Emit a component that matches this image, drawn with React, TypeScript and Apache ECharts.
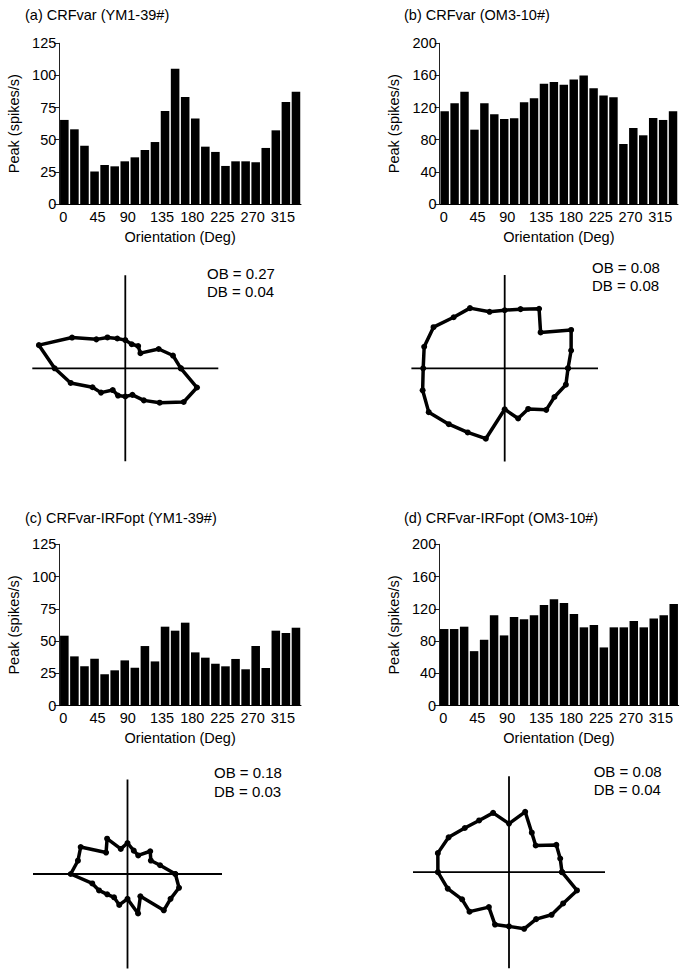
import React, { useEffect, useRef } from "react";
import * as echarts from "echarts";

const orientations = ["0","15","30","45","60","75","90","105","120","135","150","165","180","195","210","225","240","255","270","285","300","315","330","345"];
const angleDeg = [0,15,30,45,60,75,90,105,120,135,150,165,180,195,210,225,240,255,270,285,300,315,330,345];

const crfYM = [65.4,58.1,45.4,25.2,30.3,29.3,33.2,36.3,42.0,48.2,72.4,105.3,83.2,66.6,44.6,40.5,29.6,33.2,33.2,32.4,43.6,57.3,79.4,87.4];
const crfOM = [115.4,125.3,139.8,92.5,125.3,111.6,105.8,106.6,126.6,131.5,149.8,151.9,148.5,154.8,159.8,144.0,134.9,132.8,74.7,94.6,85.5,107.1,104.6,115.4];
const irfYM = [54.2,38.2,30.5,36.4,24.3,27.4,35.1,29.4,46.2,34.3,61.2,58.1,64.3,41.3,37.2,32.5,30.5,36.2,28.2,46.2,29.2,58.1,56.3,60.4];
const irfOM = [95.0,95.0,97.9,67.6,81.7,112.0,87.1,110.0,107.1,112.0,124.9,132.0,127.4,113.7,97.1,100.0,72.2,97.1,97.1,105.0,97.1,107.9,112.0,126.1];

const panelTitles = ["(a) CRFvar (YM1-39#)","(b) CRFvar (OM3-10#)","(c) CRFvar-IRFopt (YM1-39#)","(d) CRFvar-IRFopt (OM3-10#)"];
const obdb = ["OB = 0.27\nDB = 0.04","OB = 0.08\nDB = 0.08","OB = 0.18\nDB = 0.03","OB = 0.08\nDB = 0.04"];
const yMax = [125, 200, 125, 200];
const yInterval = [25, 40, 25, 40];
const polarMax = [109.5, 170, 107, 172];

const FONT = "'Liberation Sans', Arial, sans-serif";
const FS = 14.5;

export default function App() {
  const ref = useRef<HTMLDivElement>(null);
  useEffect(() => {
    if (!ref.current) return;
    const chart = echarts.init(ref.current, undefined, { renderer: "svg" });
    const datasets = [crfYM, crfOM, irfYM, irfOM];
    const grids = [
      { left: 59.3, top: 43.3, width: 241.7, height: 160.7 },
      { left: 439.7, top: 43.3, width: 238.3, height: 160.7 },
      { left: 59.3, top: 544.3, width: 241.7, height: 161.4 },
      { left: 439.2, top: 544.3, width: 239.5, height: 161.4 },
    ];
    const polars = [
      { center: [125.3, 368.3], radius: 93 },
      { center: [504.7, 368.3], radius: 93.3 },
      { center: [127.5, 874], radius: 94.5 },
      { center: [509, 872.2], radius: 96 },
    ];
    const titlePos = [
      { left: 25, top: 7 },
      { left: 404, top: 7 },
      { left: 25, top: 510 },
      { left: 404, top: 510 },
    ];
    const obPos = [
      { left: 207, top: 264 },
      { left: 592, top: 258 },
      { left: 214, top: 763.5 },
      { left: 593.7, top: 762 },
    ];
    const textStyle = { fontFamily: FONT, fontSize: FS, color: "#000", fontWeight: "normal" as const };

    const xAxis: any[] = [];
    const yAxis: any[] = [];
    const series: any[] = [];
    const angleAxis: any[] = [];
    const radiusAxis: any[] = [];
    for (let i = 0; i < 4; i++) {
      xAxis.push({
        type: "category",
        gridIndex: i,
        data: orientations,
        position: "bottom",
        axisLine: { show: true, lineStyle: { color: "#000", width: 1 } },
        axisTick: { show: false },
        axisLabel: { show: false },
      });
      xAxis.push({
        type: "value",
        gridIndex: i,
        min: 0,
        max: 360,
        interval: 45,
        position: "bottom",
        axisLine: { show: false },
        axisTick: { show: false },
        splitLine: { show: false },
        axisLabel: {
          show: true,
          align: "left",
          margin: 5,
          showMaxLabel: false,
          formatter: (v: number) => (v >= 360 ? "" : String(v)),
          ...textStyle,
        },
        name: "Orientation (Deg)",
        nameLocation: "middle",
        nameGap: 25,
        nameTextStyle: textStyle,
      });
      yAxis.push({
        type: "value",
        gridIndex: i,
        min: 0,
        max: yMax[i],
        interval: yInterval[i],
        axisLine: { show: true, lineStyle: { color: "#222", width: 1 } },
        axisTick: { show: true, length: 5, lineStyle: { color: "#222", width: 1 } },
        splitLine: { show: false },
        axisLabel: { margin: 3, ...textStyle },
        name: "Peak (spikes/s)",
        nameLocation: "middle",
        nameRotate: 90,
        nameGap: 38,
        nameTextStyle: textStyle,
      });
      series.push({
        type: "bar",
        xAxisIndex: i * 2,
        yAxisIndex: i,
        data: datasets[i],
        barCategoryGap: "15%",
        itemStyle: { color: "#000" },
      });
      angleAxis.push({
        type: "value",
        polarIndex: i,
        min: 0,
        max: 360,
        interval: 90,
        startAngle: 0,
        clockwise: false,
        axisLine: { show: false },
        axisTick: { show: false },
        axisLabel: { show: false },
        splitLine: { show: true, lineStyle: { color: "#000", width: 1.8 } },
      });
      radiusAxis.push({
        type: "value",
        polarIndex: i,
        min: 0,
        max: polarMax[i],
        axisLine: { show: false },
        axisTick: { show: false },
        axisLabel: { show: false },
        splitLine: { show: false },
      });
      const pts = angleDeg.map((a, k) => [datasets[i][k], a]);
      pts.push([datasets[i][0], 360]);
      series.push({
        type: "line",
        coordinateSystem: "polar",
        polarIndex: i,
        data: pts,
        symbol: "circle",
        symbolSize: 6,
        showSymbol: true,
        lineStyle: { color: "#000", width: 3.5 },
        itemStyle: { color: "#000" },
        z: 3,
      });
    }

    const titles: any[] = [];
    for (let i = 0; i < 4; i++) {
      titles.push({ text: panelTitles[i], left: titlePos[i].left, top: titlePos[i].top, padding: 0, textStyle: { ...textStyle, lineHeight: 16 } });
      titles.push({ text: obdb[i], left: obPos[i].left, top: obPos[i].top, padding: 0, textStyle: { ...textStyle, fontSize: 15, lineHeight: 18.5 } });
    }

    chart.setOption({
      animation: false,
      backgroundColor: "#fff",
      title: titles,
      grid: grids,
      xAxis,
      yAxis,
      polar: polars,
      angleAxis,
      radiusAxis,
      series,
    });
    return () => chart.dispose();
  }, []);
  return <div ref={ref} style={{ position: "fixed", left: 0, top: 0, width: 686, height: 976 }} />;
}
